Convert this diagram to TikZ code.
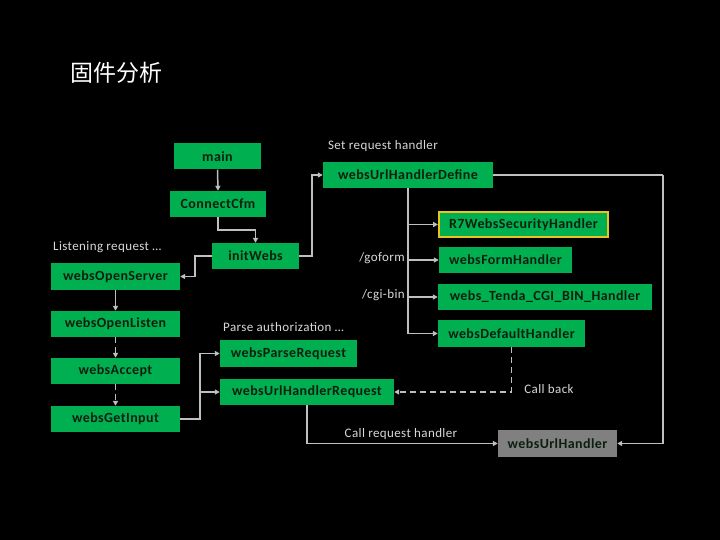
\documentclass[tikz,border=0pt]{standalone}
\usepackage{fontspec}
\setmainfont{Carlito}
\newfontfamily\cjk{Noto Sans CJK SC}
\newfontfamily\boxfont[LetterSpace=3]{Carlito}
\usetikzlibrary{arrows.meta}
\definecolor{boxgreen}{HTML}{00B050}
\definecolor{linegray}{HTML}{BFBFBF}
\definecolor{labelgray}{HTML}{D9D9D9}
\definecolor{boxtext}{HTML}{0F1F0F}
\definecolor{gbox}{HTML}{808080}
\definecolor{ybord}{HTML}{E8C51E}
\tikzset{
  fbox/.style={fill=boxgreen, draw=none, text=boxtext, inner sep=0pt,
    font=\boxfont\fontsize{14}{16}\selectfont\bfseries, minimum height=26pt},
  lbl/.style={text=labelgray, inner sep=0pt, font=\boxfont\fontsize{13}{15}\selectfont},
  conn/.style={draw=linegray, line width=1.5pt, -{Triangle[length=5pt,width=5pt]}},
  plain/.style={draw=linegray, line width=1.5pt},
  dsh/.style={dash pattern=on 6pt off 4pt},
}
\begin{document}
\begin{tikzpicture}[x=1pt,y=-1pt]
\fill[black] (0,0) rectangle (720,540);
\useasboundingbox (0,0) rectangle (720,540);
\node[text=white, inner sep=0pt, font=\cjk\fontsize{23}{25}\selectfont] (title) at (116,73) {固件分析};

\node[fbox, minimum width=87pt] (main) at (217.5,156.5) {main};
\node[fbox, minimum width=96pt] (cfm) at (218,204) {ConnectCfm};
\node[fbox, minimum width=87pt] (init) at (255.5,256) {initWebs};
\node[fbox, minimum width=170pt] (define) at (408,175) {websUrlHandlerDefine};
\node[fbox, minimum width=169pt, minimum height=25pt, draw=ybord, line width=2pt] (r7) at (523.5,224.5) {R7WebsSecurityHandler};
\node[fbox, minimum width=133pt] (form) at (505.5,260) {websFormHandler};
\node[fbox, minimum width=214pt] (cgi) at (545,297) {webs\_Tenda\_CGI\_BIN\_Handler};
\node[fbox, minimum width=147pt, minimum height=27pt] (default) at (511.5,333.5) {websDefaultHandler};
\node[fbox, minimum width=129pt, minimum height=27pt] (server) at (115.5,276.5) {websOpenServer};
\node[fbox, minimum width=129pt] (listen) at (115.5,324) {websOpenListen};
\node[fbox, minimum width=129pt] (accept) at (115.5,371) {websAccept};
\node[fbox, minimum width=129pt] (getinput) at (115.5,419) {websGetInput};
\node[fbox, minimum width=137pt, minimum height=27pt] (parse) at (288.5,353.5) {websParseRequest};
\node[fbox, minimum width=174pt] (urlreq) at (307,392) {websUrlHandlerRequest};
\node[fbox, fill=gbox, minimum width=119pt, minimum height=27pt] (urlh) at (557.5,443.5) {websUrlHandler};

\node[lbl] (l1) at (383,146) {Set request handler};
\node[lbl, anchor=west] (l2) at (53,247) {Listening request …};
\node[lbl, anchor=east] (l3) at (405,258) {/goform};
\node[lbl, anchor=east] (l4) at (405,295) {/cgi-bin};
\node[lbl, anchor=west] (l5) at (223,327) {Parse authorization …};
\node[lbl] (l6) at (549,389) {Call back};
\node[lbl] (l7) at (401,434) {Call request handler};

\draw[conn] (main.south) -- (cfm.north);
\draw[conn] (cfm.south) -- ++(0,13) -| (init.north);
\draw[conn] (init.east) -- ++(13,0) |- (define.west);
\draw[conn] (init.west) -- ++(-17,0) |- (server.east);
\draw[conn] (define.south) |- (r7.west);
\draw[conn] (define.south) |- (form.west);
\draw[conn] (define.south) |- (cgi.west);
\draw[conn] (define.south) |- (default.west);
\coordinate (rc) at (663,175);
\draw[plain] (define.east) -- (rc);
\draw[conn] (rc) |- (urlh.east);
\draw[conn] (server.south) -- (listen.north);
\draw[conn, dsh] (listen.south) -- (accept.north);
\draw[conn, dsh] (accept.south) -- (getinput.north);
\draw[conn] (getinput.east) -- ++(20,0) |- (parse.west);
\draw[conn] (getinput.east) -- ++(20,0) |- (urlreq.west);
\draw[conn, dsh] (default.south) |- (urlreq.east);
\draw[conn] (urlreq.south) |- (urlh.west);
\end{tikzpicture}
\end{document}
